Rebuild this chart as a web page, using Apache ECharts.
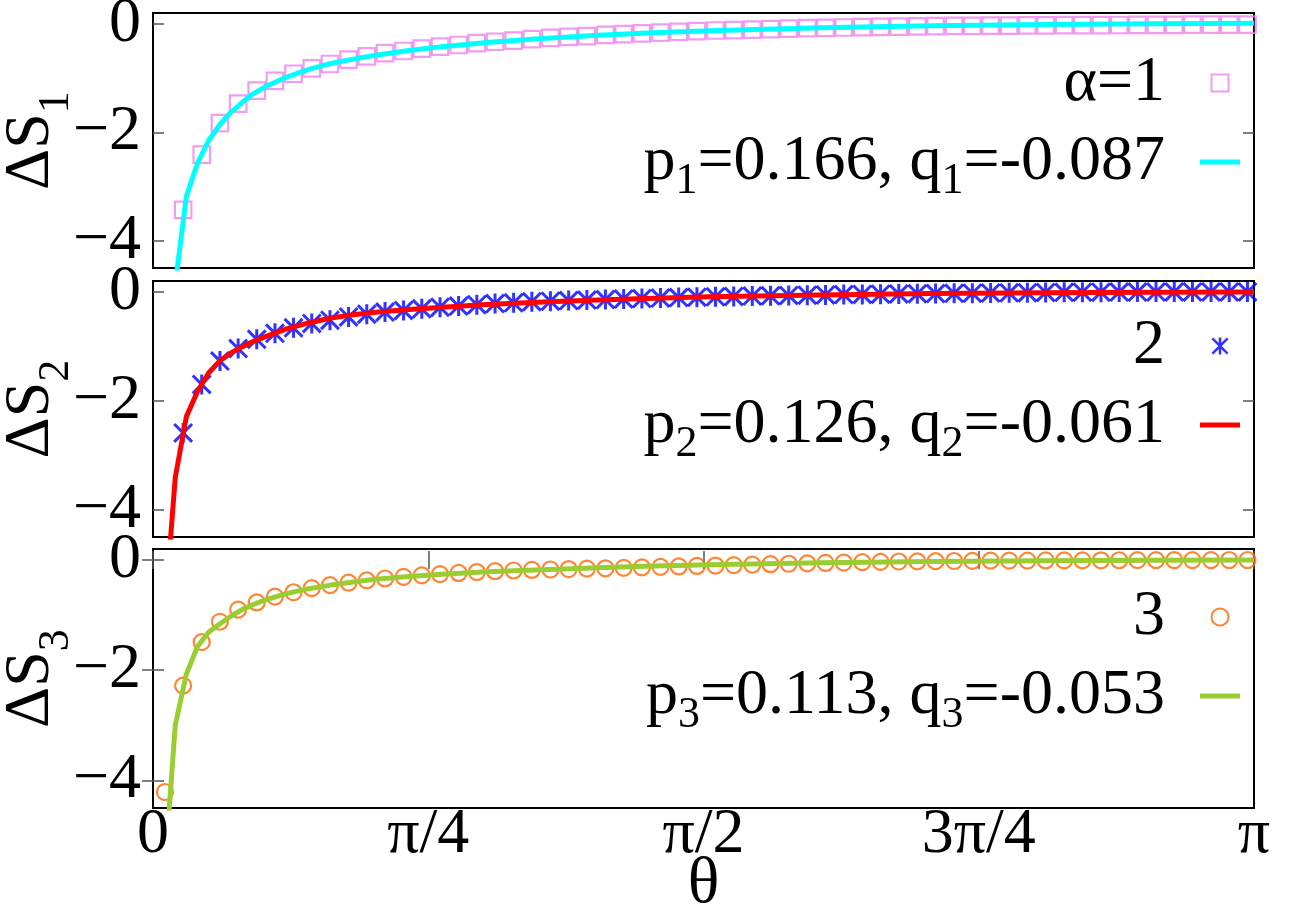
<!DOCTYPE html>
<html><head><meta charset="utf-8">
<script src="https://cdn.jsdelivr.net/npm/echarts@6/dist/echarts.min.js"></script>
<style>html,body{margin:0;padding:0;background:#fff}#c{width:1302px;height:912px}</style>
</head><body><div id="c"></div>
<script>
// ---- data ----
const theta = [0.034,0.086,0.139,0.191,0.243,0.296,0.348,0.401,0.453,0.505,0.558,0.610,0.662,0.715,0.767,0.819,0.872,0.924,0.976,1.029,
  1.081,1.134,1.186,1.238,1.291,1.343,1.395,1.448,1.500,1.552,1.605,1.657,1.710,1.762,1.814,1.867,1.919,1.971,2.024,2.076,
  2.128,2.181,2.233,2.286,2.338,2.390,2.443,2.495,2.547,2.600,2.652,2.705,2.757,2.809,2.862,2.914,2.966,3.019,3.071,3.123];
const dS1 = [null,-3.43,-2.41,-1.83,-1.47,-1.23,-1.05,-0.92,-0.82,-0.74,-0.66,-0.60,-0.54,-0.50,-0.455,-0.42,-0.39,-0.356,-0.33,-0.31,
  -0.28,-0.26,-0.24,-0.225,-0.205,-0.19,-0.175,-0.16,-0.147,-0.135,-0.123,-0.114,-0.105,-0.096,-0.088,-0.08,-0.074,-0.067,-0.061,-0.055,
  -0.05,-0.046,-0.042,-0.039,-0.036,-0.033,-0.031,-0.029,-0.027,-0.025,-0.024,-0.022,-0.021,-0.02,-0.019,-0.018,-0.016,-0.015,-0.014,-0.013];
const dS2 = [null,-2.59,-1.70,-1.27,-1.04,-0.87,-0.76,-0.66,-0.58,-0.52,-0.46,-0.41,-0.37,-0.34,-0.31,-0.28,-0.26,-0.235,-0.215,-0.20,
  -0.18,-0.17,-0.16,-0.15,-0.14,-0.13,-0.122,-0.113,-0.105,-0.097,-0.09,-0.083,-0.077,-0.071,-0.065,-0.06,-0.055,-0.05,-0.046,-0.041,
  -0.037,-0.033,-0.03,-0.026,-0.023,-0.02,-0.017,-0.014,-0.011,-0.008,-0.006,-0.005,-0.004,-0.003,-0.002,-0.001,0,0,0,0];
const dS3 = [-4.21,-2.28,-1.49,-1.12,-0.90,-0.77,-0.665,-0.585,-0.51,-0.455,-0.41,-0.37,-0.335,-0.305,-0.278,-0.255,-0.235,-0.218,-0.203,-0.19,
  -0.18,-0.172,-0.164,-0.156,-0.15,-0.142,-0.134,-0.125,-0.117,-0.108,-0.10,-0.092,-0.084,-0.076,-0.068,-0.06,-0.053,-0.046,-0.039,-0.033,
  -0.027,-0.024,-0.021,-0.018,-0.015,-0.012,-0.011,-0.01,-0.008,-0.007,-0.006,-0.005,-0.004,-0.003,-0.002,-0.002,-0.001,-0.001,0,0];

const fitTheta = [0.0317,0.0635,0.0952,0.1269,0.1587,0.1904,0.2221,0.2539,0.2856,0.3173,0.3808,0.4443,0.5077,0.5712,0.6347,
  0.7299,0.8251,0.9520,1.1107,1.2693,1.4280,1.5867,1.9040,2.2213,2.5387,2.8560,3.1416];
const fit1 = [-9.0,-4.8,-3.18,-2.57,-2.15,-1.86,-1.63,-1.45,-1.29,-1.17,-0.98,-0.84,-0.73,-0.65,-0.58,
  -0.49,-0.42,-0.345,-0.27,-0.21,-0.165,-0.125,-0.07,-0.035,-0.01,0.003,0.01];
const fit2 = [-6.05,-3.41,-2.29,-1.83,-1.49,-1.27,-1.12,-1.01,-0.91,-0.83,-0.68,-0.57,-0.48,-0.42,-0.375,
  -0.325,-0.28,-0.23,-0.185,-0.15,-0.115,-0.09,-0.055,-0.03,-0.015,-0.005,0];
const fit3 = [-5.8,-3.0,-2.07,-1.57,-1.31,-1.16,-1.02,-0.90,-0.81,-0.73,-0.61,-0.52,-0.455,-0.40,-0.35,
  -0.30,-0.26,-0.215,-0.175,-0.14,-0.11,-0.085,-0.05,-0.028,-0.013,-0.005,0];

const markerNames = ['α=1', '2', '3'];
const pValues = ['0.166', '0.126', '0.113'];
const qValues = ['-0.087', '-0.061', '-0.053'];
const yTicks = [-4, -2, 0];
const xTickLabels = ['0', 'π/4', 'π/2', '3π/4', 'π'];
const yNames = ['ΔS|1', 'ΔS|2', 'ΔS|3'];

// ---- styling ----
const FONT = 'Liberation Serif';
const FS = 64, SFS = 44, SUBPAD = 29;
const markerData = [dS1, dS2, dS3];
const fitData = [fit1, fit2, fit3];
const markerColors = ['#ee82ee', '#0000ff', '#ff6600'];
const lineColors = ['#00ffff', '#ff0000', '#9acd32'];
const STAR = 'path://M8.5 0L11.5 0L11.5 20L8.5 20ZM0 2.12L2.12 0L20 17.88L17.88 20ZM17.88 0L20 2.12L2.12 20L0 17.88Z';
const SQUARE = 'path://M0 0L20 0L20 20L0 20Z';
const BAR = 'path://M0 0L40 0L40 5L0 5Z';
const markerSymbols = ['rect', STAR, 'circle'];
const legendMarkerIcons = [SQUARE, STAR, 'circle'];
const markerSizes = [16.5, 20, 16];
const gridPos = [{top: 13, height: 255}, {top: 281, height: 256}, {top: 549, height: 259}];
const legendTops = [51, 314, 585];

const rich = {
  t: {fontSize: FS, fontFamily: FONT, color: '#000', lineHeight: 64, verticalAlign: 'top'},
  te: {fontSize: FS, fontFamily: FONT, color: '#000', lineHeight: 64, verticalAlign: 'top', padding: [0, 30, 0, 0]},
  s: {fontSize: SFS, fontFamily: FONT, color: '#000', lineHeight: 44, verticalAlign: 'top', padding: [SUBPAD, 0, 0, 0]},
  ns: {fontSize: SFS, fontFamily: FONT, color: '#000', lineHeight: 44, verticalAlign: 'top', padding: [35, 0, 0, 0]}
};
const fitName = i => 'p' + (i+1) + '=' + pValues[i] + ', q' + (i+1) + '=' + qValues[i];
const fitRich = i => '{t|p}{s|' + (i+1) + '}{t|=' + pValues[i] + ', q}{s|' + (i+1) + '}{te|=' + qValues[i] + '}';

const grid = [], xAxis = [], yAxis = [], series = [], legend = [];
const tickStyle = {color: '#555', width: 1.5};
for (let i = 0; i < 3; i++) {
  grid.push({left: 153, right: 48, top: gridPos[i].top, height: gridPos[i].height, show: true,
    borderColor: '#000', borderWidth: 2, backgroundColor: 'transparent', outerBoundsMode: 'none', containLabel: false});
  const last = i === 2;
  xAxis.push({gridIndex: i, type: 'value', min: 0, max: Math.PI, interval: Math.PI / 4,
    axisLine: {show: false}, splitLine: {show: false},
    axisTick: {show: last, inside: true, length: 9, lineStyle: tickStyle},
    axisLabel: {show: last, margin: -5, fontSize: FS, fontFamily: FONT, color: '#000',
      formatter: v => { const r = v / (Math.PI / 4), k = Math.round(r); return Math.abs(r - k) < 1e-3 ? xTickLabels[k] : ''; }},
    name: last ? 'θ' : '', nameLocation: 'middle', nameGap: 44, nameMoveOverlap: false,
    nameTextStyle: {fontSize: 66, fontFamily: FONT, color: '#000'}});
  const parts = yNames[i].split('|');
  const yBase = {gridIndex: i, type: 'value', min: -4.5, max: 0.2,
    axisLine: {show: false}, splitLine: {show: false}};
  yAxis.push(Object.assign({}, yBase, {position: 'left',
    axisTick: {inside: true, length: 11, lineStyle: tickStyle, customValues: yTicks},
    axisLabel: {margin: 12, fontSize: FS, fontFamily: FONT, color: '#000', customValues: yTicks,
      formatter: v => String(v).replace('-', '\u2212')},
    name: '{t|' + parts[0] + '}{ns|' + parts[1] + '}', nameLocation: 'middle', nameRotate: 90, nameGap: 90,
    nameMoveOverlap: false,
    nameTextStyle: {fontSize: FS, fontFamily: FONT, color: '#000', rich: rich}}));
  yAxis.push(Object.assign({}, yBase, {position: 'right',
    axisTick: {inside: true, length: 11, lineStyle: tickStyle, customValues: yTicks},
    axisLabel: {show: false}}));
  const xi = i, yi = 2 * i;
  series.push({type: 'scatter', name: markerNames[i], xAxisIndex: xi, yAxisIndex: yi,
    symbol: markerSymbols[i], symbolSize: markerSizes[i],
    itemStyle: i === 1 ? {color: markerColors[i]} : {color: 'rgba(0,0,0,0)', borderColor: markerColors[i], borderWidth: 2.2},
    data: theta.map((t, k) => [t, markerData[i][k]]).filter(d => d[1] !== null), z: 2});
  series.push({type: 'line', name: fitName(i), xAxisIndex: xi, yAxisIndex: yi,
    symbol: 'none', clip: true, lineStyle: {color: lineColors[i], width: 5}, itemStyle: {color: lineColors[i]},
    data: fitTheta.map((t, j) => [t, fitData[i][j]]), z: 3});
  legend.push({data: [{name: markerNames[i], icon: legendMarkerIcons[i]}, {name: fitName(i), icon: BAR}],
    orient: 'vertical', right: 62, top: legendTops[i],
    align: 'right', itemWidth: 40, itemHeight: 17, itemGap: 15, padding: 0, selectedMode: false,
    formatter: name => name === markerNames[i] ? '{te|' + name + '}' : fitRich(i),
    textStyle: {fontSize: FS, fontFamily: FONT, color: '#000', rich: rich}});
}
// mirror x ticks on top of bottom panel
xAxis.push({gridIndex: 2, type: 'value', position: 'top', min: 0, max: Math.PI, interval: Math.PI / 4,
  axisLine: {show: false}, splitLine: {show: false},
  axisTick: {show: true, inside: true, length: 9, lineStyle: tickStyle}, axisLabel: {show: false}});

const chart = echarts.init(document.getElementById('c'), null, {renderer: 'canvas'});
chart.setOption({animation: false, backgroundColor: '#fff', grid, xAxis, yAxis, series, legend});
</script></body></html>
